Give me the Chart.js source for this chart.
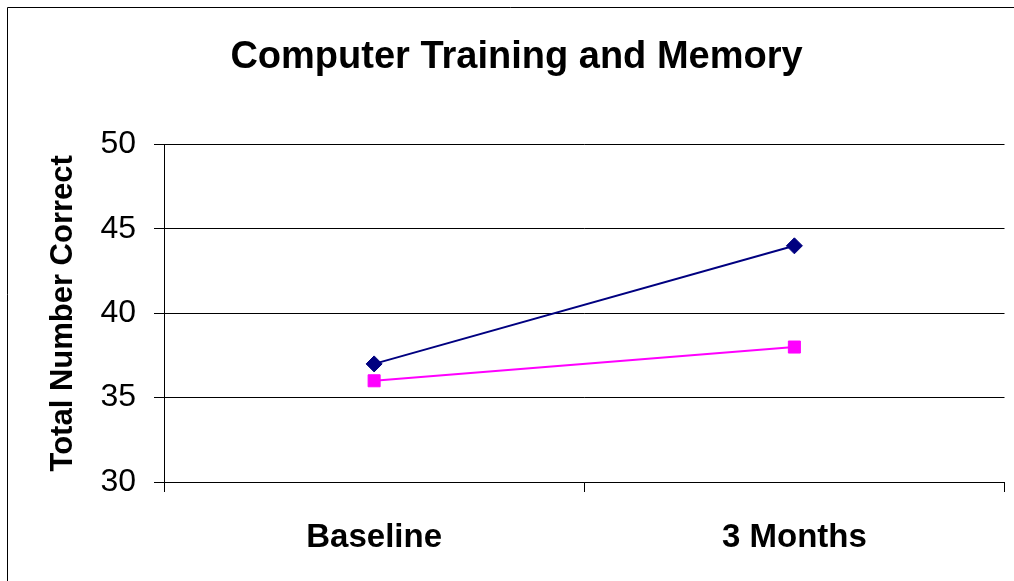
<!DOCTYPE html>
<html>
<head>
<meta charset="utf-8">
<title>Computer Training and Memory</title>
<script src="https://cdn.jsdelivr.net/npm/chart.js@4/dist/chart.umd.min.js"></script>
<style>
  html, body { margin: 0; padding: 0; background: #fff; }
  canvas { display: block; }
</style>
</head>
<body>
<canvas id="chart" width="1014" height="581"></canvas>
<script>
// Time points on the x axis
const categories = ['Baseline', '3 Months'];
// Total number correct for each group
const trainingGroup = [37, 44];
const controlGroup = [36, 38];
// Y axis range and step
const yMin = 30;
const yMax = 50;
const yStep = 5;

const FONT = "'Liberation Sans', Arial, Helvetica, sans-serif";

// Thin frame along the left and top edges of the figure
const framePlugin = {
  id: 'frame',
  beforeDraw(chart) {
    const ctx = chart.ctx;
    ctx.save();
    ctx.fillStyle = '#fff';
    ctx.fillRect(0, 0, chart.width, chart.height);
    ctx.strokeStyle = '#000';
    ctx.lineWidth = 1;
    ctx.beginPath();
    ctx.moveTo(7.5, chart.height);
    ctx.lineTo(7.5, 7.5);
    ctx.lineTo(chart.width, 7.5);
    ctx.stroke();
    ctx.restore();
  }
};

new Chart(document.getElementById('chart'), {
  type: 'line',
  data: {
    labels: categories,
    datasets: [
      {
        label: 'Computer training',
        data: trainingGroup,
        borderColor: '#000080',
        backgroundColor: '#000080',
        borderWidth: 2,
        pointStyle: 'rectRot',
        pointRadius: 8,
        pointBorderWidth: 1,
        tension: 0,
        fill: false
      },
      {
        label: 'Control',
        data: controlGroup,
        borderColor: '#FF00FF',
        backgroundColor: '#FF00FF',
        borderWidth: 2,
        pointStyle: 'rect',
        pointRadius: 8.5,
        pointBorderWidth: 1,
        tension: 0,
        fill: false
      }
    ]
  },
  options: {
    responsive: false,
    animation: false,
    devicePixelRatio: 1,
    layout: { padding: { left: 26, right: 7, top: 0, bottom: 0 } },
    plugins: {
      legend: { display: false },
      tooltip: { enabled: false },
      title: {
        display: true,
        text: 'Computer Training and Memory',
        color: '#000',
        font: { family: FONT, size: 38, weight: 'bold' },
        padding: { top: 35, bottom: 64 }
      }
    },
    scales: {
      x: {
        type: 'category',
        offset: true,
        grid: {
          offset: true,
          drawOnChartArea: false,
          drawTicks: true,
          tickLength: 10,
          color: '#000',
          lineWidth: 1
        },
        border: { color: '#000', width: 1 },
        ticks: {
          color: '#000',
          font: { family: FONT, size: 33, weight: 'bold' },
          padding: 26,
          maxRotation: 0
        },
        afterFit(scale) { scale.height = 99; }
      },
      y: {
        min: yMin,
        max: yMax,
        grid: {
          color: '#000',
          lineWidth: 1,
          drawTicks: true,
          tickLength: 10
        },
        border: { color: '#000', width: 1 },
        ticks: {
          stepSize: yStep,
          color: '#000',
          font: { family: FONT, size: 32 },
          padding: 18
        },
        title: {
          display: true,
          text: 'Total Number Correct',
          color: '#000',
          font: { family: FONT, size: 31, weight: 'bold' },
          padding: { top: 19, bottom: 0 }
        },
        afterFit(scale) { scale.width = 138; }
      }
    }
  },
  plugins: [framePlugin]
});
</script>
</body>
</html>
